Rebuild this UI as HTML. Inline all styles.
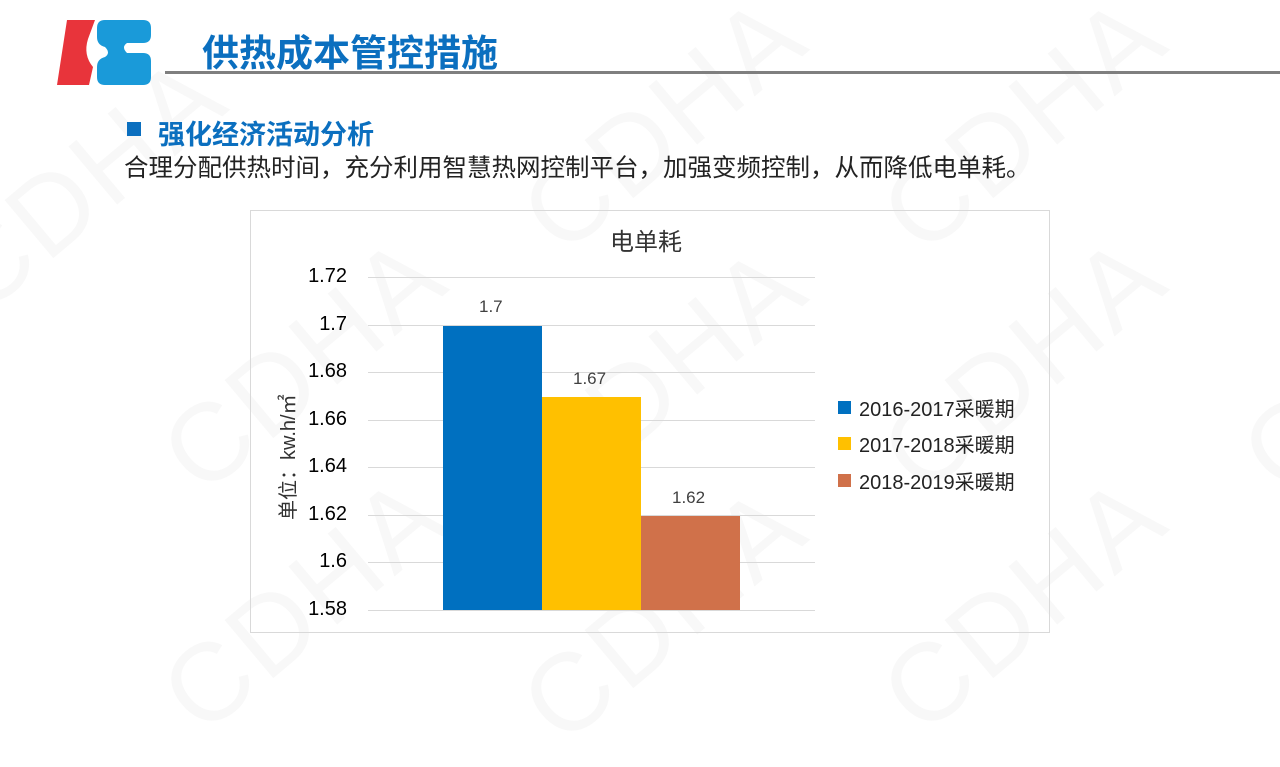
<!DOCTYPE html>
<html><head><meta charset="utf-8"><style>
body{margin:0;width:1280px;height:720px;background:#fff;position:relative;overflow:hidden;font-family:"Liberation Sans","Noto Sans CJK SC",sans-serif}
.a{position:absolute;white-space:nowrap}
.wm{position:absolute;font-size:110px;color:#f8f8f8;transform:rotate(-40deg);font-family:"Liberation Sans",sans-serif;letter-spacing:4px}
.g{position:absolute;left:368px;width:447px;height:1px;background:#d9d9d9}
.t{position:absolute;right:933px;font-size:20px;color:#000}
</style></head><body>
<div class="wm" style="left:-80px;top:120px">CDHA</div>
<div class="wm" style="left:500px;top:60px">CDHA</div>
<div class="wm" style="left:860px;top:60px">CDHA</div>
<div class="wm" style="left:140px;top:300px">CDHA</div>
<div class="wm" style="left:500px;top:310px">CDHA</div>
<div class="wm" style="left:860px;top:300px">CDHA</div>
<div class="wm" style="left:140px;top:540px">CDHA</div>
<div class="wm" style="left:500px;top:550px">CDHA</div>
<div class="wm" style="left:860px;top:540px">CDHA</div>
<div class="wm" style="left:1220px;top:300px">CDHA</div>
<svg class="a" style="left:55px;top:15px" width="100" height="72" viewBox="0 0 100 72">
<path d="M12 5 L40 5 L33 24 Q28 40 38 52 L34 70 L2 70 Z" fill="#e8343b"/>
<path d="M50 5 H88 Q96 5 96 13 V20 Q96 28 88 28 H72 Q66 32 72 38 H88 Q96 38 96 46 V62 Q96 70 88 70 H50 Q42 70 42 62 V52 Q42 44 50 42 Q56 38 50 32 Q42 30 42 22 V13 Q42 5 50 5Z" fill="#1a9ad9"/>
</svg>
<div class="a" style="left:202px;top:23px;font-size:37px;font-weight:bold;color:#0b6fbf">供热成本管控措施</div>
<div class="a" style="left:165px;top:71px;width:1115px;height:3px;background:#7f7f7f"></div>
<div class="a" style="left:127px;top:122px;width:14px;height:14px;background:#0b6fbf"></div>
<div class="a" style="left:158px;top:113px;font-size:27px;font-weight:bold;color:#0b6fbf">强化经济活动分析</div>
<div class="a" style="left:124px;top:149px;font-size:24.5px;color:#222">合理分配供热时间，充分利用智慧热网控制平台，加强变频控制，从而降低电单耗。</div>
<div class="a" style="left:250px;top:210px;width:798px;height:421px;border:1px solid #d9d9d9"></div>
<div class="a" style="left:610px;top:222px;font-size:24px;color:#333">电单耗</div>
<div class="g" style="top:277px"></div><div class="g" style="top:325px"></div><div class="g" style="top:372px"></div><div class="g" style="top:420px"></div><div class="g" style="top:467px"></div><div class="g" style="top:515px"></div><div class="g" style="top:562px"></div><div class="g" style="top:610px"></div>
<div class="t" style="top:265px">1.72</div><div class="t" style="top:313px">1.7</div><div class="t" style="top:360px">1.68</div><div class="t" style="top:408px">1.66</div><div class="t" style="top:455px">1.64</div><div class="t" style="top:503px">1.62</div><div class="t" style="top:550px">1.6</div><div class="t" style="top:598px">1.58</div>
<div class="a" style="left:443px;top:326px;width:99px;height:284px;background:#0070c0"></div>
<div class="a" style="left:542px;top:397px;width:99px;height:213px;background:#ffc000"></div>
<div class="a" style="left:641px;top:516px;width:99px;height:94px;background:#d0714a"></div>
<div class="a" style="left:479px;top:297px;font-size:17px;color:#404040">1.7</div>
<div class="a" style="left:573px;top:369px;font-size:17px;color:#404040">1.67</div>
<div class="a" style="left:672px;top:488px;font-size:17px;color:#404040">1.62</div>
<div class="a" style="left:272px;top:520px;font-size:20px;color:#333;transform:rotate(-90deg);transform-origin:0 0">单位：kw.h/㎡</div>
<div class="a" style="left:838px;top:401px;width:13px;height:13px;background:#0070c0"></div>
<div class="a" style="left:838px;top:437px;width:13px;height:13px;background:#ffc000"></div>
<div class="a" style="left:838px;top:474px;width:13px;height:13px;background:#d0714a"></div>
<div class="a" style="left:859px;top:393px;font-size:20px;color:#222">2016-2017采暖期</div>
<div class="a" style="left:859px;top:429px;font-size:20px;color:#222">2017-2018采暖期</div>
<div class="a" style="left:859px;top:466px;font-size:20px;color:#222">2018-2019采暖期</div>
</body></html>
